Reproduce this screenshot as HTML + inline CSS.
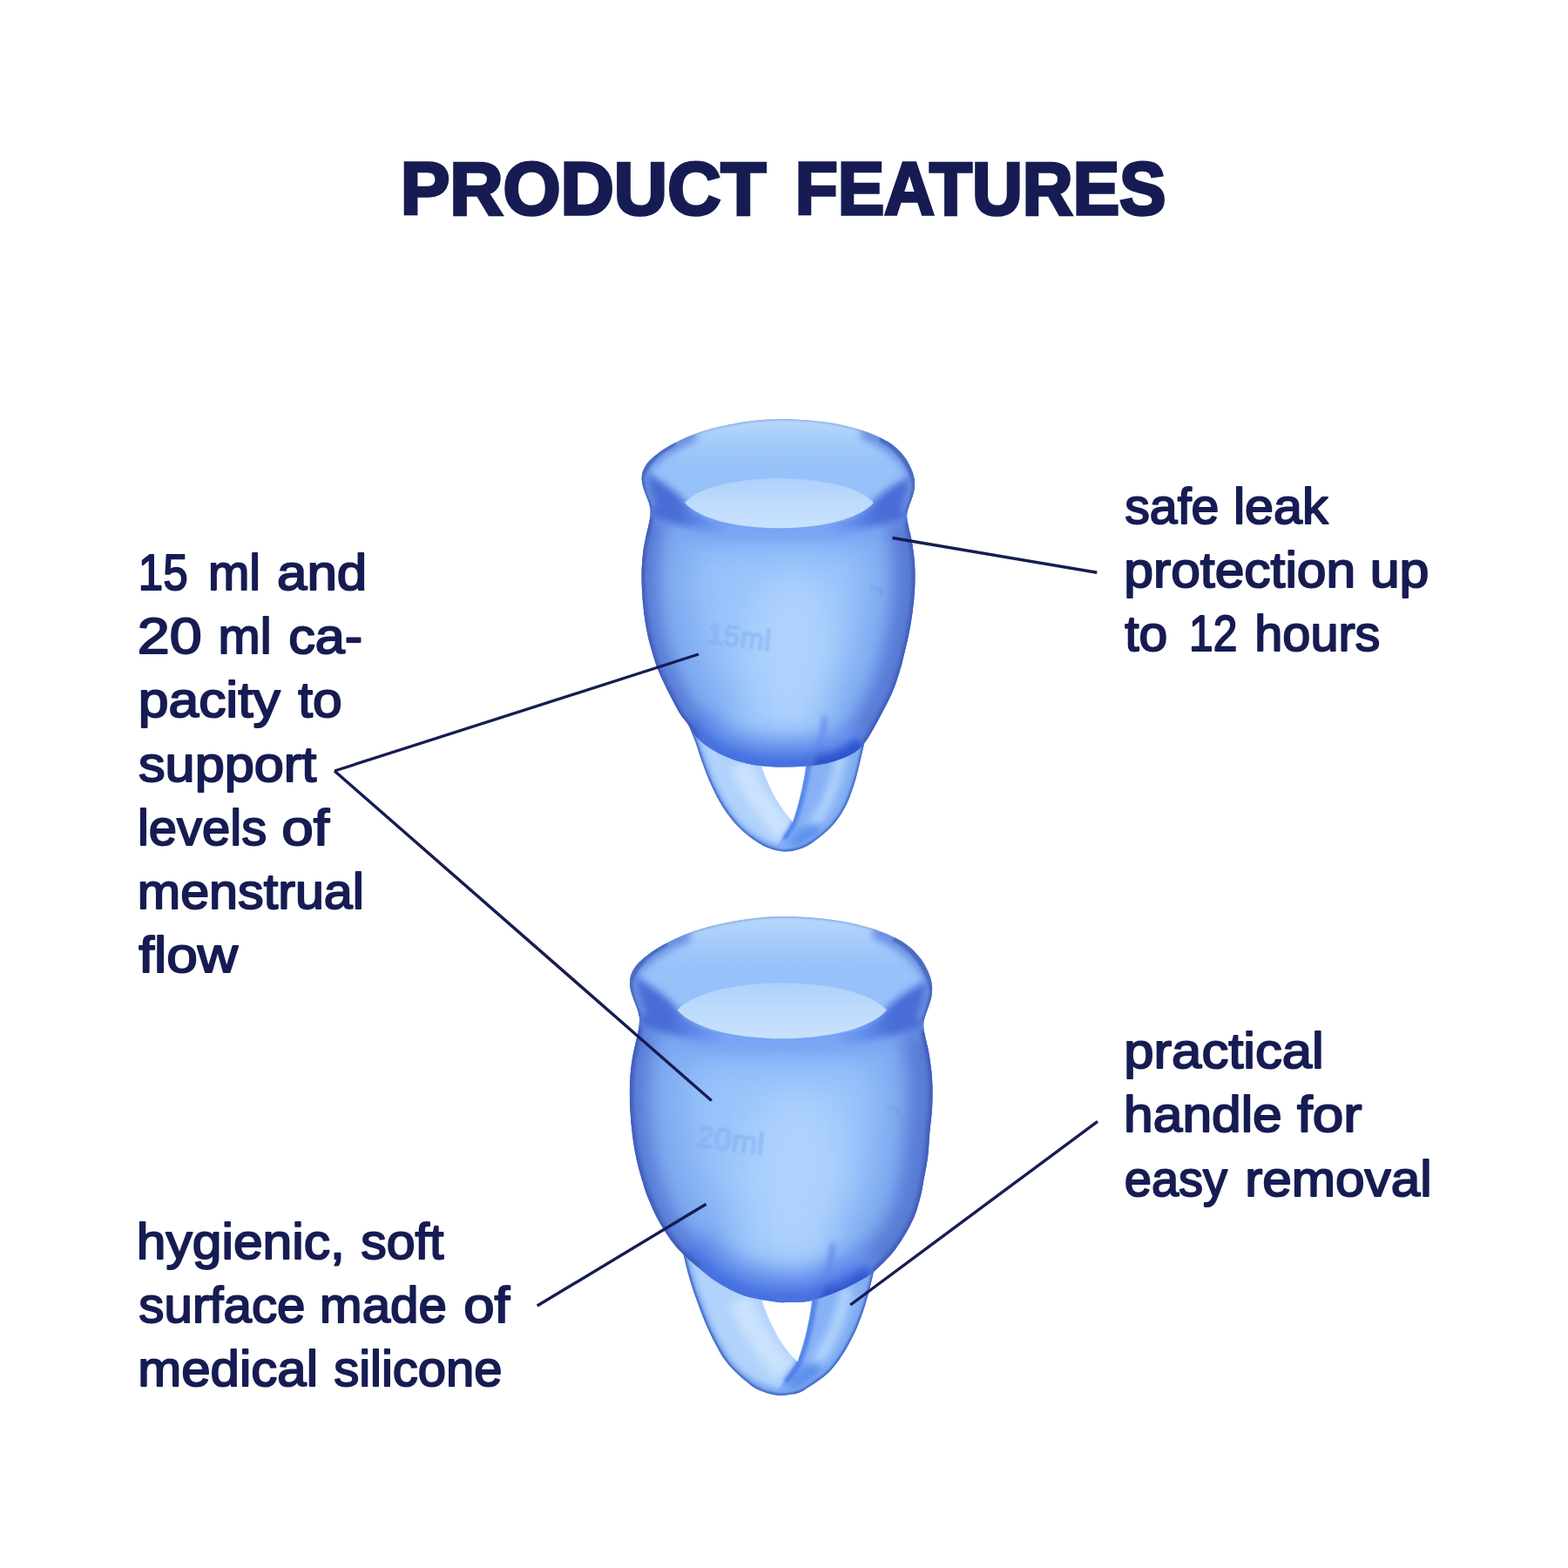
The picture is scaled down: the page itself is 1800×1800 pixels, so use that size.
<!DOCTYPE html>
<html lang="en">
<head>
<meta charset="utf-8">
<title>Product Features</title>
<style>
html,body{margin:0;padding:0;background:#ffffff;}
body{width:1800px;height:1800px;overflow:hidden;}
svg{display:block;}
text{font-family:"Liberation Sans",sans-serif;fill:#161d52;stroke:#161d52;stroke-linejoin:round;white-space:pre;}
.tt{font-size:85px;font-weight:bold;stroke-width:3.5px;stroke-linejoin:miter;stroke-miterlimit:2.5;}
.tb{font-size:58px;font-weight:normal;stroke-width:2.0px;}
.em{font-size:33px;font-weight:normal;fill:#8ab4f4;fill-opacity:.4;stroke:#7aa4ea;stroke-opacity:.55;stroke-width:1.2px;letter-spacing:0.5px;}
.em2{font-size:35px;}
.emp{fill:none;stroke:#84aef0;stroke-opacity:.4;stroke-width:3;stroke-linecap:round;stroke-linejoin:round;}
.emp2{fill:none;stroke:#6f98e4;stroke-opacity:.55;stroke-width:3;stroke-linecap:round;stroke-linejoin:round;}
.ln line{stroke:#161d52;stroke-width:3.4;stroke-linecap:butt;}
</style>
</head>
<body>
<svg width="1800" height="1800" viewBox="0 0 1800 1800">
<defs>
 <filter id="b1" filterUnits="userSpaceOnUse" x="600" y="400" width="600" height="700"><feGaussianBlur stdDeviation="1"/></filter>
 <filter id="b2" filterUnits="userSpaceOnUse" x="600" y="400" width="600" height="700"><feGaussianBlur stdDeviation="2"/></filter>
 <filter id="b3" filterUnits="userSpaceOnUse" x="600" y="400" width="600" height="700"><feGaussianBlur stdDeviation="3"/></filter>
 <filter id="b4" filterUnits="userSpaceOnUse" x="600" y="400" width="600" height="700"><feGaussianBlur stdDeviation="4"/></filter>
 <filter id="b5" filterUnits="userSpaceOnUse" x="600" y="400" width="600" height="700"><feGaussianBlur stdDeviation="5"/></filter>
 <filter id="b6" filterUnits="userSpaceOnUse" x="600" y="400" width="600" height="700"><feGaussianBlur stdDeviation="6"/></filter>
 <filter id="b8" filterUnits="userSpaceOnUse" x="600" y="400" width="600" height="700"><feGaussianBlur stdDeviation="8"/></filter>
 <filter id="b9" filterUnits="userSpaceOnUse" x="600" y="400" width="600" height="700"><feGaussianBlur stdDeviation="9"/></filter>
 <filter id="b20" filterUnits="userSpaceOnUse" x="600" y="400" width="600" height="700"><feGaussianBlur stdDeviation="20"/></filter>
 <filter id="b12" filterUnits="userSpaceOnUse" x="600" y="400" width="600" height="700"><feGaussianBlur stdDeviation="12"/></filter>
 <linearGradient id="gNeck" gradientUnits="userSpaceOnUse" x1="0" y1="600" x2="0" y2="672">
  <stop offset="0" stop-color="#6f9ff2" stop-opacity="1"/>
  <stop offset="0.25" stop-color="#78a8f5" stop-opacity="0.9"/>
  <stop offset="0.5" stop-color="#88b6f8" stop-opacity="0.55"/>
  <stop offset="1" stop-color="#98c4fb" stop-opacity="0"/>
 </linearGradient>
 <linearGradient id="gLip" gradientUnits="userSpaceOnUse" x1="736" y1="0" x2="1050" y2="0">
  <stop offset="0" stop-color="#4a6cd6"/>
  <stop offset="0.13" stop-color="#4a6cd6"/>
  <stop offset="0.2" stop-color="#5a84e6"/>
  <stop offset="0.32" stop-color="#7aa6f4"/>
  <stop offset="0.68" stop-color="#7aa6f4"/>
  <stop offset="0.8" stop-color="#5a84e6"/>
  <stop offset="0.87" stop-color="#4a6cd6"/>
  <stop offset="1" stop-color="#4a6cd6"/>
 </linearGradient>
 <linearGradient id="gWall" gradientUnits="userSpaceOnUse" x1="0" y1="481" x2="0" y2="580">
  <stop offset="0" stop-color="#b8d8fc"/>
  <stop offset="0.3" stop-color="#a2cafa"/>
  <stop offset="0.55" stop-color="#96c1f9"/>
  <stop offset="1" stop-color="#96c1f9"/>
 </linearGradient>
 <linearGradient id="gOpen" gradientUnits="userSpaceOnUse" x1="0" y1="548" x2="0" y2="606">
  <stop offset="0" stop-color="#aed0fb"/>
  <stop offset="0.5" stop-color="#bedbfc"/>
  <stop offset="1" stop-color="#c8e1fd"/>
 </linearGradient>
<filter id="eb" x="-10%" y="-30%" width="120%" height="160%"><feGaussianBlur stdDeviation="0.9"/></filter><filter id="tsoft" filterUnits="userSpaceOnUse" x="0" y="0" width="1800" height="1800"><feGaussianBlur stdDeviation="0.55"/></filter></defs>
<rect width="1800" height="1800" fill="#ffffff"/>
<g id="cup1"><clipPath id="c1clip"><path d="M736.7,549.0 C736.7,546.2 737.2,543.5 738.0,541.0 C738.8,538.5 740.0,536.2 741.5,534.0 C743.0,531.8 744.2,530.1 747.0,527.5 C749.8,524.9 753.3,521.7 758.0,518.5 C762.7,515.3 768.3,511.7 775.0,508.3 C781.7,504.9 789.7,501.1 798.0,498.0 C806.3,494.9 814.7,492.4 825.0,490.0 C835.3,487.6 848.5,485.0 860.0,483.5 C871.5,482.0 882.3,481.1 894.0,481.0 C905.7,480.9 918.2,481.5 930.0,482.6 C941.8,483.7 953.7,485.1 965.0,487.5 C976.3,489.9 988.3,493.3 998.0,497.0 C1007.7,500.7 1016.3,505.0 1023.0,509.5 C1029.7,514.0 1034.2,519.2 1038.0,524.0 C1041.8,528.8 1044.1,533.8 1046.0,538.0 C1047.9,542.2 1048.8,545.8 1049.5,549.0 C1050.2,552.2 1050.1,554.3 1050.0,557.0 C1049.9,559.7 1049.6,562.3 1049.0,565.0 C1048.4,567.7 1047.4,570.3 1046.5,573.0 C1045.6,575.7 1044.4,578.3 1043.5,581.0 C1042.6,583.7 1041.6,586.3 1041.3,589.0 C1041.0,591.7 1041.1,594.0 1041.5,597.0 C1041.9,600.0 1042.7,603.2 1043.5,607.0 C1044.3,610.8 1045.6,615.0 1046.5,620.0 C1047.4,625.0 1048.4,631.2 1049.0,636.7 C1049.6,642.2 1050.1,646.1 1050.3,653.0 C1050.5,659.9 1050.5,669.7 1050.0,678.0 C1049.5,686.3 1048.6,694.7 1047.5,703.0 C1046.4,711.3 1045.0,719.7 1043.3,728.0 C1041.6,736.3 1039.2,746.0 1037.5,753.0 C1035.8,760.0 1035.1,763.3 1033.0,770.0 C1030.9,776.7 1028.8,784.4 1025.0,793.3 C1021.2,802.2 1015.5,813.2 1010.0,823.3 C1004.5,833.4 997.5,846.7 991.7,854.0 C985.9,861.3 982.0,863.3 975.0,867.0 C968.0,870.7 958.3,873.9 950.0,876.0 C941.7,878.1 933.3,878.8 925.0,879.5 C916.7,880.2 907.0,880.4 900.0,880.5 C893.0,880.6 890.2,880.6 883.3,880.0 C876.3,879.4 866.1,878.4 858.3,876.7 C850.5,875.0 843.6,872.8 836.7,870.0 C829.8,867.2 822.8,863.9 816.7,860.0 C810.6,856.1 804.5,851.4 800.0,846.7 C795.5,842.0 793.3,836.4 790.0,831.7 C786.7,827.0 783.9,824.7 780.0,818.3 C776.1,811.9 770.7,801.3 766.7,793.3 C762.7,785.2 758.6,776.7 755.8,770.0 C753.0,763.3 752.1,760.2 750.0,753.3 C747.9,746.3 745.1,736.6 743.3,728.3 C741.5,720.0 740.2,711.6 739.2,703.3 C738.2,695.0 737.4,686.6 737.0,678.3 C736.6,670.0 736.5,661.0 736.7,653.3 C737.0,645.6 737.7,638.2 738.5,632.0 C739.3,625.8 740.5,620.8 741.5,616.0 C742.5,611.2 743.7,606.8 744.5,603.0 C745.3,599.2 746.0,596.2 746.3,593.0 C746.6,589.8 746.8,586.8 746.5,584.0 C746.2,581.2 745.4,578.8 744.5,576.0 C743.6,573.2 742.1,570.0 741.0,567.0 C739.9,564.0 738.7,561.0 738.0,558.0 C737.3,555.0 736.7,551.8 736.7,549.0Z"/></clipPath>
<clipPath id="c1hclip"><path d="M789.0,829.0 C790.5,832.8 795.3,843.8 798.3,851.7 C801.2,859.7 803.6,868.4 806.7,876.7 C809.8,885.0 812.8,893.4 816.7,901.7 C820.6,910.0 825.0,918.9 830.0,926.7 C835.0,934.5 840.6,941.9 846.7,948.3 C852.8,954.7 860.6,960.8 866.7,965.0 C872.8,969.2 877.8,971.7 883.3,973.8 C888.8,975.9 894.4,977.3 900.0,977.5 C905.6,977.7 911.2,976.8 916.7,975.0 C922.2,973.2 926.9,971.2 933.3,966.7 C939.7,962.2 948.9,955.0 955.0,948.3 C961.1,941.6 965.8,934.5 970.0,926.7 C974.2,918.9 977.2,910.0 980.0,901.7 C982.8,893.4 984.6,885.0 986.7,876.7 C988.8,868.4 991.5,856.1 992.5,852.0 L960,846 L893,852 L820,842 Z"/></clipPath>
<g clip-path="url(#c1hclip)">
<path d="M789.0,829.0 C790.5,832.8 795.3,843.8 798.3,851.7 C801.2,859.7 803.6,868.4 806.7,876.7 C809.8,885.0 812.8,893.4 816.7,901.7 C820.6,910.0 825.0,918.9 830.0,926.7 C835.0,934.5 840.6,941.9 846.7,948.3 C852.8,954.7 860.6,960.8 866.7,965.0 C872.8,969.2 877.8,971.7 883.3,973.8 C888.8,975.9 894.4,977.3 900.0,977.5 C905.6,977.7 911.2,976.8 916.7,975.0 C922.2,973.2 926.9,971.2 933.3,966.7 C939.7,962.2 948.9,955.0 955.0,948.3 C961.1,941.6 965.8,934.5 970.0,926.7 C974.2,918.9 977.2,910.0 980.0,901.7 C982.8,893.4 984.6,885.0 986.7,876.7 C988.8,868.4 991.5,856.1 992.5,852.0 L960,846 L893,852 L820,842 Z" fill="#b0d2fb"/>
<path d="M850,878 C862,905 880,932 902,955" fill="none" stroke="#cae2fd" stroke-width="24" filter="url(#b5)"/>
<path d="M926,868 C924,892 918,920 910,943.5 C902,958 892,972 880,985 L1000,985 L1000,840 Z" fill="#86b1f5"/>
<path d="M966,866 C960,898 948,928 930,952" fill="none" stroke="#aed0fb" stroke-width="13" filter="url(#b4)"/>
<ellipse cx="925" cy="962" rx="22" ry="12" transform="rotate(-35 925 962)" fill="#5f92ee" filter="url(#b5)"/>
<path d="M858,962 C875,971 888,976 900,977" fill="none" stroke="#84b0f4" stroke-width="10" filter="url(#b3)"/>
<path d="M929,872 C926,895 920,920 912,944 C908,952 904,958 900,963" fill="none" stroke="#4a7ae6" stroke-width="5" filter="url(#b2)"/>
<path d="M789.0,829.0 C790.5,832.8 795.3,843.8 798.3,851.7 C801.2,859.7 803.6,868.4 806.7,876.7 C809.8,885.0 812.8,893.4 816.7,901.7 C820.6,910.0 825.0,918.9 830.0,926.7 C835.0,934.5 840.6,941.9 846.7,948.3 C852.8,954.7 860.6,960.8 866.7,965.0 C872.8,969.2 877.8,971.7 883.3,973.8 C888.8,975.9 894.4,977.3 900.0,977.5 C905.6,977.7 911.2,976.8 916.7,975.0 C922.2,973.2 926.9,971.2 933.3,966.7 C939.7,962.2 948.9,955.0 955.0,948.3 C961.1,941.6 965.8,934.5 970.0,926.7 C974.2,918.9 977.2,910.0 980.0,901.7 C982.8,893.4 984.6,885.0 986.7,876.7 C988.8,868.4 991.5,856.1 992.5,852.0" fill="none" stroke="#79a6f0" stroke-width="10" filter="url(#b3)"/>
<path d="M789.0,829.0 C790.5,832.8 795.3,843.8 798.3,851.7 C801.2,859.7 803.6,868.4 806.7,876.7 C809.8,885.0 812.8,893.4 816.7,901.7 C820.6,910.0 825.0,918.9 830.0,926.7 C835.0,934.5 840.6,941.9 846.7,948.3 C852.8,954.7 860.6,960.8 866.7,965.0 C872.8,969.2 877.8,971.7 883.3,973.8 C888.8,975.9 894.4,977.3 900.0,977.5 C905.6,977.7 911.2,976.8 916.7,975.0 C922.2,973.2 926.9,971.2 933.3,966.7 C939.7,962.2 948.9,955.0 955.0,948.3 C961.1,941.6 965.8,934.5 970.0,926.7 C974.2,918.9 977.2,910.0 980.0,901.7 C982.8,893.4 984.6,885.0 986.7,876.7 C988.8,868.4 991.5,856.1 992.5,852.0" fill="none" stroke="#4468c4" stroke-width="4" filter="url(#b1)"/>
</g>
<path d="M873,876 L926,872 C924,892 918,920 910,943.5 C898,930 883,908 873,876 Z" fill="#ffffff"/>
<g clip-path="url(#c1clip)">
<path d="M736.7,549.0 C736.7,546.2 737.2,543.5 738.0,541.0 C738.8,538.5 740.0,536.2 741.5,534.0 C743.0,531.8 744.2,530.1 747.0,527.5 C749.8,524.9 753.3,521.7 758.0,518.5 C762.7,515.3 768.3,511.7 775.0,508.3 C781.7,504.9 789.7,501.1 798.0,498.0 C806.3,494.9 814.7,492.4 825.0,490.0 C835.3,487.6 848.5,485.0 860.0,483.5 C871.5,482.0 882.3,481.1 894.0,481.0 C905.7,480.9 918.2,481.5 930.0,482.6 C941.8,483.7 953.7,485.1 965.0,487.5 C976.3,489.9 988.3,493.3 998.0,497.0 C1007.7,500.7 1016.3,505.0 1023.0,509.5 C1029.7,514.0 1034.2,519.2 1038.0,524.0 C1041.8,528.8 1044.1,533.8 1046.0,538.0 C1047.9,542.2 1048.8,545.8 1049.5,549.0 C1050.2,552.2 1050.1,554.3 1050.0,557.0 C1049.9,559.7 1049.6,562.3 1049.0,565.0 C1048.4,567.7 1047.4,570.3 1046.5,573.0 C1045.6,575.7 1044.4,578.3 1043.5,581.0 C1042.6,583.7 1041.6,586.3 1041.3,589.0 C1041.0,591.7 1041.1,594.0 1041.5,597.0 C1041.9,600.0 1042.7,603.2 1043.5,607.0 C1044.3,610.8 1045.6,615.0 1046.5,620.0 C1047.4,625.0 1048.4,631.2 1049.0,636.7 C1049.6,642.2 1050.1,646.1 1050.3,653.0 C1050.5,659.9 1050.5,669.7 1050.0,678.0 C1049.5,686.3 1048.6,694.7 1047.5,703.0 C1046.4,711.3 1045.0,719.7 1043.3,728.0 C1041.6,736.3 1039.2,746.0 1037.5,753.0 C1035.8,760.0 1035.1,763.3 1033.0,770.0 C1030.9,776.7 1028.8,784.4 1025.0,793.3 C1021.2,802.2 1015.5,813.2 1010.0,823.3 C1004.5,833.4 997.5,846.7 991.7,854.0 C985.9,861.3 982.0,863.3 975.0,867.0 C968.0,870.7 958.3,873.9 950.0,876.0 C941.7,878.1 933.3,878.8 925.0,879.5 C916.7,880.2 907.0,880.4 900.0,880.5 C893.0,880.6 890.2,880.6 883.3,880.0 C876.3,879.4 866.1,878.4 858.3,876.7 C850.5,875.0 843.6,872.8 836.7,870.0 C829.8,867.2 822.8,863.9 816.7,860.0 C810.6,856.1 804.5,851.4 800.0,846.7 C795.5,842.0 793.3,836.4 790.0,831.7 C786.7,827.0 783.9,824.7 780.0,818.3 C776.1,811.9 770.7,801.3 766.7,793.3 C762.7,785.2 758.6,776.7 755.8,770.0 C753.0,763.3 752.1,760.2 750.0,753.3 C747.9,746.3 745.1,736.6 743.3,728.3 C741.5,720.0 740.2,711.6 739.2,703.3 C738.2,695.0 737.4,686.6 737.0,678.3 C736.6,670.0 736.5,661.0 736.7,653.3 C737.0,645.6 737.7,638.2 738.5,632.0 C739.3,625.8 740.5,620.8 741.5,616.0 C742.5,611.2 743.7,606.8 744.5,603.0 C745.3,599.2 746.0,596.2 746.3,593.0 C746.6,589.8 746.8,586.8 746.5,584.0 C746.2,581.2 745.4,578.8 744.5,576.0 C743.6,573.2 742.1,570.0 741.0,567.0 C739.9,564.0 738.7,561.0 738.0,558.0 C737.3,555.0 736.7,551.8 736.7,549.0Z" fill="#98c4fb"/>
<ellipse cx="910" cy="750" rx="55" ry="95" fill="#aed2fd" filter="url(#b20)"/>
<rect x="730" y="580" width="330" height="95" fill="url(#gNeck)"/>
<path d="M800.0,846.7 C798.3,844.2 793.3,836.4 790.0,831.7 C786.7,827.0 783.9,824.7 780.0,818.3 C776.1,811.9 770.7,801.3 766.7,793.3 C762.7,785.2 758.6,776.7 755.8,770.0 C753.0,763.3 752.1,760.2 750.0,753.3 C747.9,746.3 745.1,736.6 743.3,728.3 C741.5,720.0 740.2,711.6 739.2,703.3 C738.2,695.0 737.4,686.6 737.0,678.3 C736.6,670.0 736.5,661.0 736.7,653.3 C737.0,645.6 737.7,638.2 738.5,632.0 C739.3,625.8 740.5,620.8 741.5,616.0 C742.5,611.2 743.7,606.8 744.5,603.0 C745.3,599.2 746.0,594.7 746.3,593.0" fill="none" stroke="#7ba8f0" stroke-width="110" filter="url(#b20)"/>
<path d="M1041.5,597.0 C1041.8,598.7 1042.7,603.2 1043.5,607.0 C1044.3,610.8 1045.6,615.0 1046.5,620.0 C1047.4,625.0 1048.4,631.2 1049.0,636.7 C1049.6,642.2 1050.1,646.1 1050.3,653.0 C1050.5,659.9 1050.5,669.7 1050.0,678.0 C1049.5,686.3 1048.6,694.7 1047.5,703.0 C1046.4,711.3 1045.0,719.7 1043.3,728.0 C1041.6,736.3 1039.2,746.0 1037.5,753.0 C1035.8,760.0 1035.1,763.3 1033.0,770.0 C1030.9,776.7 1028.8,784.4 1025.0,793.3 C1021.2,802.2 1015.5,813.2 1010.0,823.3 C1004.5,833.4 994.8,848.9 991.7,854.0" fill="none" stroke="#7ba8f0" stroke-width="110" filter="url(#b20)"/>
<path d="M800.0,846.7 C798.3,844.2 793.3,836.4 790.0,831.7 C786.7,827.0 783.9,824.7 780.0,818.3 C776.1,811.9 770.7,801.3 766.7,793.3 C762.7,785.2 758.6,776.7 755.8,770.0 C753.0,763.3 752.1,760.2 750.0,753.3 C747.9,746.3 745.1,736.6 743.3,728.3 C741.5,720.0 740.2,711.6 739.2,703.3 C738.2,695.0 737.4,686.6 737.0,678.3 C736.6,670.0 736.5,661.0 736.7,653.3 C737.0,645.6 737.7,638.2 738.5,632.0 C739.3,625.8 740.5,620.8 741.5,616.0 C742.5,611.2 743.7,606.8 744.5,603.0 C745.3,599.2 746.0,594.7 746.3,593.0" fill="none" stroke="#587cd6" stroke-width="38" filter="url(#b9)"/>
<path d="M1041.5,597.0 C1041.8,598.7 1042.7,603.2 1043.5,607.0 C1044.3,610.8 1045.6,615.0 1046.5,620.0 C1047.4,625.0 1048.4,631.2 1049.0,636.7 C1049.6,642.2 1050.1,646.1 1050.3,653.0 C1050.5,659.9 1050.5,669.7 1050.0,678.0 C1049.5,686.3 1048.6,694.7 1047.5,703.0 C1046.4,711.3 1045.0,719.7 1043.3,728.0 C1041.6,736.3 1039.2,746.0 1037.5,753.0 C1035.8,760.0 1035.1,763.3 1033.0,770.0 C1030.9,776.7 1028.8,784.4 1025.0,793.3 C1021.2,802.2 1015.5,813.2 1010.0,823.3 C1004.5,833.4 994.8,848.9 991.7,854.0" fill="none" stroke="#587cd6" stroke-width="50" filter="url(#b9)"/>
<path d="M991.7,854.0 C988.9,856.2 982.0,863.3 975.0,867.0 C968.0,870.7 958.3,873.9 950.0,876.0 C941.7,878.1 933.3,878.8 925.0,879.5 C916.7,880.2 907.0,880.4 900.0,880.5 C893.0,880.6 890.2,880.6 883.3,880.0 C876.3,879.4 866.1,878.4 858.3,876.7 C850.5,875.0 843.6,872.8 836.7,870.0 C829.8,867.2 822.8,863.9 816.7,860.0 C810.6,856.1 804.5,851.4 800.0,846.7 C795.5,842.0 791.7,834.2 790.0,831.7" fill="none" stroke="#5984e8" stroke-width="60" filter="url(#b12)"/>
<path d="M991.7,854.0 C988.9,856.2 982.0,863.3 975.0,867.0 C968.0,870.7 958.3,873.9 950.0,876.0 C941.7,878.1 933.3,878.8 925.0,879.5 C916.7,880.2 907.0,880.4 900.0,880.5 C893.0,880.6 890.2,880.6 883.3,880.0 C876.3,879.4 866.1,878.4 858.3,876.7 C850.5,875.0 843.6,872.8 836.7,870.0 C829.8,867.2 822.8,863.9 816.7,860.0 C810.6,856.1 804.5,851.4 800.0,846.7 C795.5,842.0 791.7,834.2 790.0,831.7" fill="none" stroke="#4670e0" stroke-width="22" filter="url(#b5)"/>
<path d="M947,822 C946,840 940,862 929,884" fill="none" stroke="#6288e8" stroke-width="5" filter="url(#b3)"/>
<path d="M934,874 C950,882 968,874 990,856" fill="none" stroke="#2f52ca" stroke-width="20" filter="url(#b5)"/>
<path d="M800.0,846.7 C798.3,844.2 793.3,836.4 790.0,831.7 C786.7,827.0 783.9,824.7 780.0,818.3 C776.1,811.9 770.7,801.3 766.7,793.3 C762.7,785.2 758.6,776.7 755.8,770.0 C753.0,763.3 752.1,760.2 750.0,753.3 C747.9,746.3 745.1,736.6 743.3,728.3 C741.5,720.0 740.2,711.6 739.2,703.3 C738.2,695.0 737.4,686.6 737.0,678.3 C736.6,670.0 736.5,661.0 736.7,653.3 C737.0,645.6 737.7,638.2 738.5,632.0 C739.3,625.8 740.5,620.8 741.5,616.0 C742.5,611.2 743.7,606.8 744.5,603.0 C745.3,599.2 746.0,594.7 746.3,593.0" fill="none" stroke="#415cba" stroke-width="7" filter="url(#b2)"/>
<path d="M1041.5,597.0 C1041.8,598.7 1042.7,603.2 1043.5,607.0 C1044.3,610.8 1045.6,615.0 1046.5,620.0 C1047.4,625.0 1048.4,631.2 1049.0,636.7 C1049.6,642.2 1050.1,646.1 1050.3,653.0 C1050.5,659.9 1050.5,669.7 1050.0,678.0 C1049.5,686.3 1048.6,694.7 1047.5,703.0 C1046.4,711.3 1045.0,719.7 1043.3,728.0 C1041.6,736.3 1039.2,746.0 1037.5,753.0 C1035.8,760.0 1035.1,763.3 1033.0,770.0 C1030.9,776.7 1028.8,784.4 1025.0,793.3 C1021.2,802.2 1015.5,813.2 1010.0,823.3 C1004.5,833.4 994.8,848.9 991.7,854.0" fill="none" stroke="#415cba" stroke-width="7" filter="url(#b2)"/>
<path d="M736.7,549.0 C736.9,547.7 737.2,543.5 738.0,541.0 C738.8,538.5 740.0,536.2 741.5,534.0 C743.0,531.8 744.2,530.1 747.0,527.5 C749.8,524.9 753.3,521.7 758.0,518.5 C762.7,515.3 768.3,511.7 775.0,508.3 C781.7,504.9 789.7,501.1 798.0,498.0 C806.3,494.9 814.7,492.4 825.0,490.0 C835.3,487.6 848.5,485.0 860.0,483.5 C871.5,482.0 882.3,481.1 894.0,481.0 C905.7,480.9 918.2,481.5 930.0,482.6 C941.8,483.7 953.7,485.1 965.0,487.5 C976.3,489.9 988.3,493.3 998.0,497.0 C1007.7,500.7 1016.3,505.0 1023.0,509.5 C1029.7,514.0 1034.2,519.2 1038.0,524.0 C1041.8,528.8 1044.1,533.8 1046.0,538.0 C1047.9,542.2 1048.8,545.8 1049.5,549.0 C1050.2,552.2 1049.9,555.7 1050.0,557.0 C1049,566 1046,574 1043,580 C1000,598 950,603 895,603 C840,603 790,598 745.5,580 C741,572 737,562 736.7,548.3 Z" fill="url(#gWall)"/>
<path d="M728,534 C750,546 772,560 786,575 C820,617 969,617 1003,575 C1018,560 1040,548 1058,542 L1050,592 C1012,604 960,614 895,614 C830,614 778,604 738,590 Z" fill="url(#gLip)" filter="url(#b4)"/>
<path d="M736.7,549.0 C736.9,547.7 737.2,543.5 738.0,541.0 C738.8,538.5 740.0,536.2 741.5,534.0 C743.0,531.8 744.2,530.1 747.0,527.5 C749.8,524.9 753.3,521.7 758.0,518.5 C762.7,515.3 768.3,511.7 775.0,508.3 C781.7,504.9 789.7,501.1 798.0,498.0 C806.3,494.9 814.7,492.4 825.0,490.0 C835.3,487.6 848.5,485.0 860.0,483.5 C871.5,482.0 882.3,481.1 894.0,481.0 C905.7,480.9 918.2,481.5 930.0,482.6 C941.8,483.7 953.7,485.1 965.0,487.5 C976.3,489.9 988.3,493.3 998.0,497.0 C1007.7,500.7 1016.3,505.0 1023.0,509.5 C1029.7,514.0 1034.2,519.2 1038.0,524.0 C1041.8,528.8 1044.1,533.8 1046.0,538.0 C1047.9,542.2 1048.8,545.8 1049.5,549.0 C1050.2,552.2 1049.9,555.7 1050.0,557.0" fill="none" stroke="#8fb0e4" stroke-width="3" filter="url(#b1)"/>
<path d="M798,498 C775,507 752,522 741.5,534 C738,540 736.7,545 736.7,549 C737,560 741,570 746.5,584" fill="none" stroke="#6a90e4" stroke-width="16" filter="url(#b4)"/>
<path d="M775,508.3 C758,517 742,530 736.7,549 C737,560 741,570 746.5,584" fill="none" stroke="#4a6cc0" stroke-width="6" filter="url(#b1)"/>
<path d="M990,495 C1015,505 1038,522 1046,538 C1049,545 1050,552 1050,557 C1049,568 1045,578 1041.3,589" fill="none" stroke="#6a90e4" stroke-width="16" filter="url(#b4)"/>
<path d="M1010,503 C1030,513 1047,535 1050,557 C1049,568 1045,578 1041.3,589" fill="none" stroke="#4a6cc0" stroke-width="6" filter="url(#b1)"/>
<path d="M786,577 C820,616 969,616 1003,577 C969,540 820,540 786,577 Z" fill="url(#gOpen)"/>
</g></g>
<g id="cup2"><g transform="translate(-92.97,513.28) scale(1.1076,1.12)"><clipPath id="c2clip"><path d="M736.7,549.0 C736.7,546.2 737.2,543.5 738.0,541.0 C738.8,538.5 740.0,536.2 741.5,534.0 C743.0,531.8 744.2,530.1 747.0,527.5 C749.8,524.9 753.3,521.7 758.0,518.5 C762.7,515.3 768.3,511.7 775.0,508.3 C781.7,504.9 789.7,501.1 798.0,498.0 C806.3,494.9 814.7,492.4 825.0,490.0 C835.3,487.6 848.5,485.0 860.0,483.5 C871.5,482.0 882.3,481.1 894.0,481.0 C905.7,480.9 918.2,481.5 930.0,482.6 C941.8,483.7 953.7,485.1 965.0,487.5 C976.3,489.9 988.3,493.3 998.0,497.0 C1007.7,500.7 1016.3,505.0 1023.0,509.5 C1029.7,514.0 1034.2,519.2 1038.0,524.0 C1041.8,528.8 1044.1,533.8 1046.0,538.0 C1047.9,542.2 1048.8,545.8 1049.5,549.0 C1050.2,552.2 1050.1,554.3 1050.0,557.0 C1049.9,559.7 1049.6,562.3 1049.0,565.0 C1048.4,567.7 1047.4,570.3 1046.5,573.0 C1045.6,575.7 1044.4,578.3 1043.5,581.0 C1042.6,583.7 1041.6,586.3 1041.3,589.0 C1041.0,591.7 1041.1,594.0 1041.5,597.0 C1041.9,600.0 1042.7,603.2 1043.5,607.0 C1044.3,610.8 1045.6,615.0 1046.5,620.0 C1047.4,625.0 1048.4,631.2 1049.0,636.7 C1049.6,642.2 1050.1,646.1 1050.3,653.0 C1050.5,659.9 1050.5,669.7 1050.0,678.0 C1049.5,686.3 1048.2,694.7 1047.5,703.0 C1046.8,711.3 1046.6,719.7 1045.5,728.0 C1044.4,736.3 1042.3,746.0 1041.0,753.0 C1039.7,760.0 1039.4,763.3 1037.5,770.0 C1035.6,776.7 1033.8,784.6 1029.5,793.3 C1025.2,802.0 1018.7,813.3 1012.0,822.0 C1005.3,830.7 995.8,839.9 989.1,845.6 C982.4,851.3 978.1,852.8 972.0,856.0 C965.9,859.2 960.6,862.0 952.7,865.1 C944.8,868.2 933.3,873.0 924.5,874.9 C915.7,876.8 905.8,876.3 900.0,876.5 C894.2,876.7 897.1,877.5 889.5,876.3 C881.9,875.1 864.9,872.8 854.3,869.3 C843.7,865.8 833.8,859.8 826.1,855.1 C818.4,850.4 813.6,845.6 808.0,841.0 C802.4,836.4 797.1,831.9 792.6,827.6 C788.1,823.3 785.3,820.7 781.0,815.0 C776.7,809.3 770.9,800.8 766.7,793.3 C762.5,785.8 758.6,776.7 755.8,770.0 C753.0,763.3 752.1,760.2 750.0,753.3 C747.9,746.3 745.1,736.6 743.3,728.3 C741.5,720.0 740.2,711.6 739.2,703.3 C738.2,695.0 737.4,686.6 737.0,678.3 C736.6,670.0 736.5,661.0 736.7,653.3 C737.0,645.6 737.7,638.2 738.5,632.0 C739.3,625.8 740.5,620.8 741.5,616.0 C742.5,611.2 743.7,606.8 744.5,603.0 C745.3,599.2 746.0,596.2 746.3,593.0 C746.6,589.8 746.8,586.8 746.5,584.0 C746.2,581.2 745.4,578.8 744.5,576.0 C743.6,573.2 742.1,570.0 741.0,567.0 C739.9,564.0 738.7,561.0 738.0,558.0 C737.3,555.0 736.7,551.8 736.7,549.0Z"/></clipPath>
<clipPath id="c2hclip"><path d="M791.6,825.0 C792.7,829.2 795.7,842.1 798.0,850.0 C800.3,857.9 801.7,862.6 805.2,872.1 C808.7,881.6 813.8,895.7 819.2,906.8 C824.6,917.9 830.6,929.7 837.6,938.7 C844.6,947.7 855.0,955.9 861.4,960.9 C867.8,965.9 871.1,966.7 876.0,968.5 C880.9,970.3 886.1,971.5 890.8,971.9 C895.5,972.3 899.5,971.7 904.0,970.8 C908.5,969.9 910.6,970.6 917.5,966.4 C924.4,962.2 937.4,954.4 945.6,945.6 C953.8,936.8 960.9,924.8 966.7,913.7 C972.6,902.6 976.8,890.8 980.7,879.0 C984.6,867.2 988.5,849.0 990.0,843.0 L960,846 L893,852 L820,842 Z"/></clipPath>
<g clip-path="url(#c2hclip)">
<path d="M791.6,825.0 C792.7,829.2 795.7,842.1 798.0,850.0 C800.3,857.9 801.7,862.6 805.2,872.1 C808.7,881.6 813.8,895.7 819.2,906.8 C824.6,917.9 830.6,929.7 837.6,938.7 C844.6,947.7 855.0,955.9 861.4,960.9 C867.8,965.9 871.1,966.7 876.0,968.5 C880.9,970.3 886.1,971.5 890.8,971.9 C895.5,972.3 899.5,971.7 904.0,970.8 C908.5,969.9 910.6,970.6 917.5,966.4 C924.4,962.2 937.4,954.4 945.6,945.6 C953.8,936.8 960.9,924.8 966.7,913.7 C972.6,902.6 976.8,890.8 980.7,879.0 C984.6,867.2 988.5,849.0 990.0,843.0 L960,846 L893,852 L820,842 Z" fill="#b0d2fb"/>
<path d="M850,874 C862,900 878,926 898,948" fill="none" stroke="#cae2fd" stroke-width="24" filter="url(#b5)"/>
<path d="M926,866 C924,890 919,914 910.5,937.4 C902,952 890,966 878,980 L1000,980 L1000,835 Z" fill="#86b1f5"/>
<path d="M962,862 C956,892 944,920 926,944" fill="none" stroke="#aed0fb" stroke-width="13" filter="url(#b4)"/>
<ellipse cx="918" cy="954" rx="22" ry="12" transform="rotate(-35 918 954)" fill="#5f92ee" filter="url(#b5)"/>
<path d="M852,955 C868,964 880,969 892,971" fill="none" stroke="#84b0f4" stroke-width="10" filter="url(#b3)"/>
<path d="M929,870 C926,892 921,915 912.5,938 C908,946 903,953 898,958" fill="none" stroke="#4a7ae6" stroke-width="5" filter="url(#b2)"/>
<path d="M791.6,825.0 C792.7,829.2 795.7,842.1 798.0,850.0 C800.3,857.9 801.7,862.6 805.2,872.1 C808.7,881.6 813.8,895.7 819.2,906.8 C824.6,917.9 830.6,929.7 837.6,938.7 C844.6,947.7 855.0,955.9 861.4,960.9 C867.8,965.9 871.1,966.7 876.0,968.5 C880.9,970.3 886.1,971.5 890.8,971.9 C895.5,972.3 899.5,971.7 904.0,970.8 C908.5,969.9 910.6,970.6 917.5,966.4 C924.4,962.2 937.4,954.4 945.6,945.6 C953.8,936.8 960.9,924.8 966.7,913.7 C972.6,902.6 976.8,890.8 980.7,879.0 C984.6,867.2 988.5,849.0 990.0,843.0" fill="none" stroke="#79a6f0" stroke-width="10" filter="url(#b3)"/>
<path d="M791.6,825.0 C792.7,829.2 795.7,842.1 798.0,850.0 C800.3,857.9 801.7,862.6 805.2,872.1 C808.7,881.6 813.8,895.7 819.2,906.8 C824.6,917.9 830.6,929.7 837.6,938.7 C844.6,947.7 855.0,955.9 861.4,960.9 C867.8,965.9 871.1,966.7 876.0,968.5 C880.9,970.3 886.1,971.5 890.8,971.9 C895.5,972.3 899.5,971.7 904.0,970.8 C908.5,969.9 910.6,970.6 917.5,966.4 C924.4,962.2 937.4,954.4 945.6,945.6 C953.8,936.8 960.9,924.8 966.7,913.7 C972.6,902.6 976.8,890.8 980.7,879.0 C984.6,867.2 988.5,849.0 990.0,843.0" fill="none" stroke="#4468c4" stroke-width="4" filter="url(#b1)"/>
</g>
<path d="M873,872 L926,869 C924,890 919,914 910.5,937.4 C898,926 883,905 873,872 Z" fill="#ffffff"/>
<g clip-path="url(#c2clip)">
<path d="M736.7,549.0 C736.7,546.2 737.2,543.5 738.0,541.0 C738.8,538.5 740.0,536.2 741.5,534.0 C743.0,531.8 744.2,530.1 747.0,527.5 C749.8,524.9 753.3,521.7 758.0,518.5 C762.7,515.3 768.3,511.7 775.0,508.3 C781.7,504.9 789.7,501.1 798.0,498.0 C806.3,494.9 814.7,492.4 825.0,490.0 C835.3,487.6 848.5,485.0 860.0,483.5 C871.5,482.0 882.3,481.1 894.0,481.0 C905.7,480.9 918.2,481.5 930.0,482.6 C941.8,483.7 953.7,485.1 965.0,487.5 C976.3,489.9 988.3,493.3 998.0,497.0 C1007.7,500.7 1016.3,505.0 1023.0,509.5 C1029.7,514.0 1034.2,519.2 1038.0,524.0 C1041.8,528.8 1044.1,533.8 1046.0,538.0 C1047.9,542.2 1048.8,545.8 1049.5,549.0 C1050.2,552.2 1050.1,554.3 1050.0,557.0 C1049.9,559.7 1049.6,562.3 1049.0,565.0 C1048.4,567.7 1047.4,570.3 1046.5,573.0 C1045.6,575.7 1044.4,578.3 1043.5,581.0 C1042.6,583.7 1041.6,586.3 1041.3,589.0 C1041.0,591.7 1041.1,594.0 1041.5,597.0 C1041.9,600.0 1042.7,603.2 1043.5,607.0 C1044.3,610.8 1045.6,615.0 1046.5,620.0 C1047.4,625.0 1048.4,631.2 1049.0,636.7 C1049.6,642.2 1050.1,646.1 1050.3,653.0 C1050.5,659.9 1050.5,669.7 1050.0,678.0 C1049.5,686.3 1048.2,694.7 1047.5,703.0 C1046.8,711.3 1046.6,719.7 1045.5,728.0 C1044.4,736.3 1042.3,746.0 1041.0,753.0 C1039.7,760.0 1039.4,763.3 1037.5,770.0 C1035.6,776.7 1033.8,784.6 1029.5,793.3 C1025.2,802.0 1018.7,813.3 1012.0,822.0 C1005.3,830.7 995.8,839.9 989.1,845.6 C982.4,851.3 978.1,852.8 972.0,856.0 C965.9,859.2 960.6,862.0 952.7,865.1 C944.8,868.2 933.3,873.0 924.5,874.9 C915.7,876.8 905.8,876.3 900.0,876.5 C894.2,876.7 897.1,877.5 889.5,876.3 C881.9,875.1 864.9,872.8 854.3,869.3 C843.7,865.8 833.8,859.8 826.1,855.1 C818.4,850.4 813.6,845.6 808.0,841.0 C802.4,836.4 797.1,831.9 792.6,827.6 C788.1,823.3 785.3,820.7 781.0,815.0 C776.7,809.3 770.9,800.8 766.7,793.3 C762.5,785.8 758.6,776.7 755.8,770.0 C753.0,763.3 752.1,760.2 750.0,753.3 C747.9,746.3 745.1,736.6 743.3,728.3 C741.5,720.0 740.2,711.6 739.2,703.3 C738.2,695.0 737.4,686.6 737.0,678.3 C736.6,670.0 736.5,661.0 736.7,653.3 C737.0,645.6 737.7,638.2 738.5,632.0 C739.3,625.8 740.5,620.8 741.5,616.0 C742.5,611.2 743.7,606.8 744.5,603.0 C745.3,599.2 746.0,596.2 746.3,593.0 C746.6,589.8 746.8,586.8 746.5,584.0 C746.2,581.2 745.4,578.8 744.5,576.0 C743.6,573.2 742.1,570.0 741.0,567.0 C739.9,564.0 738.7,561.0 738.0,558.0 C737.3,555.0 736.7,551.8 736.7,549.0Z" fill="#98c4fb"/>
<ellipse cx="910" cy="750" rx="55" ry="95" fill="#aed2fd" filter="url(#b20)"/>
<rect x="730" y="580" width="330" height="95" fill="url(#gNeck)"/>
<path d="M808.0,841.0 C805.4,838.8 797.1,831.9 792.6,827.6 C788.1,823.3 785.3,820.7 781.0,815.0 C776.7,809.3 770.9,800.8 766.7,793.3 C762.5,785.8 758.6,776.7 755.8,770.0 C753.0,763.3 752.1,760.2 750.0,753.3 C747.9,746.3 745.1,736.6 743.3,728.3 C741.5,720.0 740.2,711.6 739.2,703.3 C738.2,695.0 737.4,686.6 737.0,678.3 C736.6,670.0 736.5,661.0 736.7,653.3 C737.0,645.6 737.7,638.2 738.5,632.0 C739.3,625.8 740.5,620.8 741.5,616.0 C742.5,611.2 743.7,606.8 744.5,603.0 C745.3,599.2 746.0,594.7 746.3,593.0" fill="none" stroke="#7ba8f0" stroke-width="110" filter="url(#b20)"/>
<path d="M1041.5,597.0 C1041.8,598.7 1042.7,603.2 1043.5,607.0 C1044.3,610.8 1045.6,615.0 1046.5,620.0 C1047.4,625.0 1048.4,631.2 1049.0,636.7 C1049.6,642.2 1050.1,646.1 1050.3,653.0 C1050.5,659.9 1050.5,669.7 1050.0,678.0 C1049.5,686.3 1048.2,694.7 1047.5,703.0 C1046.8,711.3 1046.6,719.7 1045.5,728.0 C1044.4,736.3 1042.3,746.0 1041.0,753.0 C1039.7,760.0 1039.4,763.3 1037.5,770.0 C1035.6,776.7 1033.8,784.6 1029.5,793.3 C1025.2,802.0 1018.7,813.3 1012.0,822.0 C1005.3,830.7 992.9,841.7 989.1,845.6" fill="none" stroke="#7ba8f0" stroke-width="110" filter="url(#b20)"/>
<path d="M808.0,841.0 C805.4,838.8 797.1,831.9 792.6,827.6 C788.1,823.3 785.3,820.7 781.0,815.0 C776.7,809.3 770.9,800.8 766.7,793.3 C762.5,785.8 758.6,776.7 755.8,770.0 C753.0,763.3 752.1,760.2 750.0,753.3 C747.9,746.3 745.1,736.6 743.3,728.3 C741.5,720.0 740.2,711.6 739.2,703.3 C738.2,695.0 737.4,686.6 737.0,678.3 C736.6,670.0 736.5,661.0 736.7,653.3 C737.0,645.6 737.7,638.2 738.5,632.0 C739.3,625.8 740.5,620.8 741.5,616.0 C742.5,611.2 743.7,606.8 744.5,603.0 C745.3,599.2 746.0,594.7 746.3,593.0" fill="none" stroke="#587cd6" stroke-width="38" filter="url(#b9)"/>
<path d="M1041.5,597.0 C1041.8,598.7 1042.7,603.2 1043.5,607.0 C1044.3,610.8 1045.6,615.0 1046.5,620.0 C1047.4,625.0 1048.4,631.2 1049.0,636.7 C1049.6,642.2 1050.1,646.1 1050.3,653.0 C1050.5,659.9 1050.5,669.7 1050.0,678.0 C1049.5,686.3 1048.2,694.7 1047.5,703.0 C1046.8,711.3 1046.6,719.7 1045.5,728.0 C1044.4,736.3 1042.3,746.0 1041.0,753.0 C1039.7,760.0 1039.4,763.3 1037.5,770.0 C1035.6,776.7 1033.8,784.6 1029.5,793.3 C1025.2,802.0 1018.7,813.3 1012.0,822.0 C1005.3,830.7 992.9,841.7 989.1,845.6" fill="none" stroke="#587cd6" stroke-width="50" filter="url(#b9)"/>
<path d="M989.1,845.6 C986.2,847.3 978.1,852.8 972.0,856.0 C965.9,859.2 960.6,862.0 952.7,865.1 C944.8,868.2 933.3,873.0 924.5,874.9 C915.7,876.8 905.8,876.3 900.0,876.5 C894.2,876.7 897.1,877.5 889.5,876.3 C881.9,875.1 864.9,872.8 854.3,869.3 C843.7,865.8 833.8,859.8 826.1,855.1 C818.4,850.4 813.6,845.6 808.0,841.0 C802.4,836.4 795.2,829.8 792.6,827.6" fill="none" stroke="#5984e8" stroke-width="60" filter="url(#b12)"/>
<path d="M989.1,845.6 C986.2,847.3 978.1,852.8 972.0,856.0 C965.9,859.2 960.6,862.0 952.7,865.1 C944.8,868.2 933.3,873.0 924.5,874.9 C915.7,876.8 905.8,876.3 900.0,876.5 C894.2,876.7 897.1,877.5 889.5,876.3 C881.9,875.1 864.9,872.8 854.3,869.3 C843.7,865.8 833.8,859.8 826.1,855.1 C818.4,850.4 813.6,845.6 808.0,841.0 C802.4,836.4 795.2,829.8 792.6,827.6" fill="none" stroke="#4670e0" stroke-width="22" filter="url(#b5)"/>
<path d="M947,816 C946,834 940,856 929,878" fill="none" stroke="#6288e8" stroke-width="5" filter="url(#b3)"/>
<path d="M934,868 C950,876 966,868 986,850" fill="none" stroke="#2f52ca" stroke-width="20" filter="url(#b5)"/>
<path d="M808.0,841.0 C805.4,838.8 797.1,831.9 792.6,827.6 C788.1,823.3 785.3,820.7 781.0,815.0 C776.7,809.3 770.9,800.8 766.7,793.3 C762.5,785.8 758.6,776.7 755.8,770.0 C753.0,763.3 752.1,760.2 750.0,753.3 C747.9,746.3 745.1,736.6 743.3,728.3 C741.5,720.0 740.2,711.6 739.2,703.3 C738.2,695.0 737.4,686.6 737.0,678.3 C736.6,670.0 736.5,661.0 736.7,653.3 C737.0,645.6 737.7,638.2 738.5,632.0 C739.3,625.8 740.5,620.8 741.5,616.0 C742.5,611.2 743.7,606.8 744.5,603.0 C745.3,599.2 746.0,594.7 746.3,593.0" fill="none" stroke="#415cba" stroke-width="7" filter="url(#b2)"/>
<path d="M1041.5,597.0 C1041.8,598.7 1042.7,603.2 1043.5,607.0 C1044.3,610.8 1045.6,615.0 1046.5,620.0 C1047.4,625.0 1048.4,631.2 1049.0,636.7 C1049.6,642.2 1050.1,646.1 1050.3,653.0 C1050.5,659.9 1050.5,669.7 1050.0,678.0 C1049.5,686.3 1048.2,694.7 1047.5,703.0 C1046.8,711.3 1046.6,719.7 1045.5,728.0 C1044.4,736.3 1042.3,746.0 1041.0,753.0 C1039.7,760.0 1039.4,763.3 1037.5,770.0 C1035.6,776.7 1033.8,784.6 1029.5,793.3 C1025.2,802.0 1018.7,813.3 1012.0,822.0 C1005.3,830.7 992.9,841.7 989.1,845.6" fill="none" stroke="#415cba" stroke-width="7" filter="url(#b2)"/>
<path d="M736.7,549.0 C736.9,547.7 737.2,543.5 738.0,541.0 C738.8,538.5 740.0,536.2 741.5,534.0 C743.0,531.8 744.2,530.1 747.0,527.5 C749.8,524.9 753.3,521.7 758.0,518.5 C762.7,515.3 768.3,511.7 775.0,508.3 C781.7,504.9 789.7,501.1 798.0,498.0 C806.3,494.9 814.7,492.4 825.0,490.0 C835.3,487.6 848.5,485.0 860.0,483.5 C871.5,482.0 882.3,481.1 894.0,481.0 C905.7,480.9 918.2,481.5 930.0,482.6 C941.8,483.7 953.7,485.1 965.0,487.5 C976.3,489.9 988.3,493.3 998.0,497.0 C1007.7,500.7 1016.3,505.0 1023.0,509.5 C1029.7,514.0 1034.2,519.2 1038.0,524.0 C1041.8,528.8 1044.1,533.8 1046.0,538.0 C1047.9,542.2 1048.8,545.8 1049.5,549.0 C1050.2,552.2 1049.9,555.7 1050.0,557.0 C1049,566 1046,574 1043,580 C1000,598 950,603 895,603 C840,603 790,598 745.5,580 C741,572 737,562 736.7,548.3 Z" fill="url(#gWall)"/>
<path d="M728,534 C750,546 772,560 786,575 C820,617 969,617 1003,575 C1018,560 1040,548 1058,542 L1050,592 C1012,604 960,614 895,614 C830,614 778,604 738,590 Z" fill="url(#gLip)" filter="url(#b4)"/>
<path d="M736.7,549.0 C736.9,547.7 737.2,543.5 738.0,541.0 C738.8,538.5 740.0,536.2 741.5,534.0 C743.0,531.8 744.2,530.1 747.0,527.5 C749.8,524.9 753.3,521.7 758.0,518.5 C762.7,515.3 768.3,511.7 775.0,508.3 C781.7,504.9 789.7,501.1 798.0,498.0 C806.3,494.9 814.7,492.4 825.0,490.0 C835.3,487.6 848.5,485.0 860.0,483.5 C871.5,482.0 882.3,481.1 894.0,481.0 C905.7,480.9 918.2,481.5 930.0,482.6 C941.8,483.7 953.7,485.1 965.0,487.5 C976.3,489.9 988.3,493.3 998.0,497.0 C1007.7,500.7 1016.3,505.0 1023.0,509.5 C1029.7,514.0 1034.2,519.2 1038.0,524.0 C1041.8,528.8 1044.1,533.8 1046.0,538.0 C1047.9,542.2 1048.8,545.8 1049.5,549.0 C1050.2,552.2 1049.9,555.7 1050.0,557.0" fill="none" stroke="#8fb0e4" stroke-width="3" filter="url(#b1)"/>
<path d="M798,498 C775,507 752,522 741.5,534 C738,540 736.7,545 736.7,549 C737,560 741,570 746.5,584" fill="none" stroke="#6a90e4" stroke-width="16" filter="url(#b4)"/>
<path d="M775,508.3 C758,517 742,530 736.7,549 C737,560 741,570 746.5,584" fill="none" stroke="#4a6cc0" stroke-width="6" filter="url(#b1)"/>
<path d="M990,495 C1015,505 1038,522 1046,538 C1049,545 1050,552 1050,557 C1049,568 1045,578 1041.3,589" fill="none" stroke="#6a90e4" stroke-width="16" filter="url(#b4)"/>
<path d="M1010,503 C1030,513 1047,535 1050,557 C1049,568 1045,578 1041.3,589" fill="none" stroke="#4a6cc0" stroke-width="6" filter="url(#b1)"/>
<path d="M786,577 C820,616 969,616 1003,577 C969,540 820,540 786,577 Z" fill="url(#gOpen)"/>
</g></g></g>
<g id="emboss" filter="url(#eb)">
<text transform="translate(811,738) rotate(7)" class="em">15ml</text>
<path d="M771,699 L794,713 L797,717" class="emp"/>
<path d="M1001,675 L1012,677 L1011,683" class="emp2"/>
<text transform="translate(799,1316) rotate(7)" class="em em2">20ml</text>
<path d="M764,1279 L788,1292 L791,1297" class="emp"/>
<path d="M1019,1271 L1031,1273 L1030,1280" class="emp2"/>
</g>
<g class="ln" filter="url(#tsoft)">
<line x1="384" y1="885" x2="802" y2="751"/>
<line x1="384" y1="885" x2="816.8" y2="1263.5"/>
<line x1="616.7" y1="1499" x2="810.6" y2="1382.3"/>
<line x1="1024.4" y1="617.5" x2="1259.3" y2="657.3"/>
<line x1="1260" y1="1287.3" x2="976.2" y2="1498"/>
</g>
<g id="labels" filter="url(#tsoft)">
<text y="245.6" class="tt"><tspan x="459.63" textLength="419.69" lengthAdjust="spacingAndGlyphs">PRODUCT</tspan> <tspan x="912.72" textLength="425.79" lengthAdjust="spacingAndGlyphs">FEATURES</tspan></text>
<text y="677.3" class="tb"><tspan x="158.84" textLength="56.85" lengthAdjust="spacingAndGlyphs">15</tspan> <tspan x="239.00" textLength="59.99" lengthAdjust="spacingAndGlyphs">ml</tspan> <tspan x="317.93" textLength="103.38" lengthAdjust="spacingAndGlyphs">and</tspan></text>
<text y="750.4" class="tb"><tspan x="157.81" textLength="73.87" lengthAdjust="spacingAndGlyphs">20</tspan> <tspan x="250.54" textLength="61.02" lengthAdjust="spacingAndGlyphs">ml</tspan> <tspan x="331.16" textLength="85.00" lengthAdjust="spacingAndGlyphs">ca-</tspan></text>
<text y="823.4" class="tb"><tspan x="158.66" textLength="163.17" lengthAdjust="spacingAndGlyphs">pacity</tspan> <tspan x="342.19" textLength="50.39" lengthAdjust="spacingAndGlyphs">to</tspan></text>
<text y="896.5" class="tb"><tspan x="158.99" textLength="204.21" lengthAdjust="spacingAndGlyphs">support</tspan></text>
<text y="969.6" class="tb"><tspan x="157.93" textLength="148.20" lengthAdjust="spacingAndGlyphs">levels</tspan> <tspan x="323.31" textLength="54.75" lengthAdjust="spacingAndGlyphs">of</tspan></text>
<text y="1042.7" class="tb"><tspan x="157.84" textLength="260.11" lengthAdjust="spacingAndGlyphs">menstrual</tspan></text>
<text y="1115.7" class="tb"><tspan x="159.23" textLength="113.83" lengthAdjust="spacingAndGlyphs">flow</tspan></text>
<text y="1444.5" class="tb"><tspan x="156.82" textLength="238.96" lengthAdjust="spacingAndGlyphs">hygienic,</tspan> <tspan x="414.35" textLength="95.03" lengthAdjust="spacingAndGlyphs">soft</tspan></text>
<text y="1517.8" class="tb"><tspan x="159.37" textLength="191.07" lengthAdjust="spacingAndGlyphs">surface</tspan> <tspan x="367.11" textLength="145.83" lengthAdjust="spacingAndGlyphs">made</tspan> <tspan x="532.20" textLength="52.96" lengthAdjust="spacingAndGlyphs">of</tspan></text>
<text y="1591.0" class="tb"><tspan x="158.29" textLength="206.72" lengthAdjust="spacingAndGlyphs">medical</tspan> <tspan x="383.17" textLength="193.45" lengthAdjust="spacingAndGlyphs">silicone</tspan></text>
<text y="600.8" class="tb"><tspan x="1291.20" textLength="108.19" lengthAdjust="spacingAndGlyphs">safe</tspan> <tspan x="1415.94" textLength="108.66" lengthAdjust="spacingAndGlyphs">leak</tspan></text>
<text y="673.8" class="tb"><tspan x="1290.39" textLength="265.83" lengthAdjust="spacingAndGlyphs">protection</tspan> <tspan x="1572.66" textLength="67.73" lengthAdjust="spacingAndGlyphs">up</tspan></text>
<text y="746.8" class="tb"><tspan x="1291.21" textLength="49.10" lengthAdjust="spacingAndGlyphs">to</tspan> <tspan x="1365.05" textLength="55.32" lengthAdjust="spacingAndGlyphs">12</tspan> <tspan x="1440.33" textLength="144.08" lengthAdjust="spacingAndGlyphs">hours</tspan></text>
<text y="1225.7" class="tb"><tspan x="1290.32" textLength="229.50" lengthAdjust="spacingAndGlyphs">practical</tspan></text>
<text y="1299.2" class="tb"><tspan x="1290.13" textLength="181.61" lengthAdjust="spacingAndGlyphs">handle</tspan> <tspan x="1488.94" textLength="74.46" lengthAdjust="spacingAndGlyphs">for</tspan></text>
<text y="1372.8" class="tb"><tspan x="1290.78" textLength="118.34" lengthAdjust="spacingAndGlyphs">easy</tspan> <tspan x="1429.17" textLength="214.56" lengthAdjust="spacingAndGlyphs">removal</tspan></text>
</g>
</svg>
</body>
</html>
